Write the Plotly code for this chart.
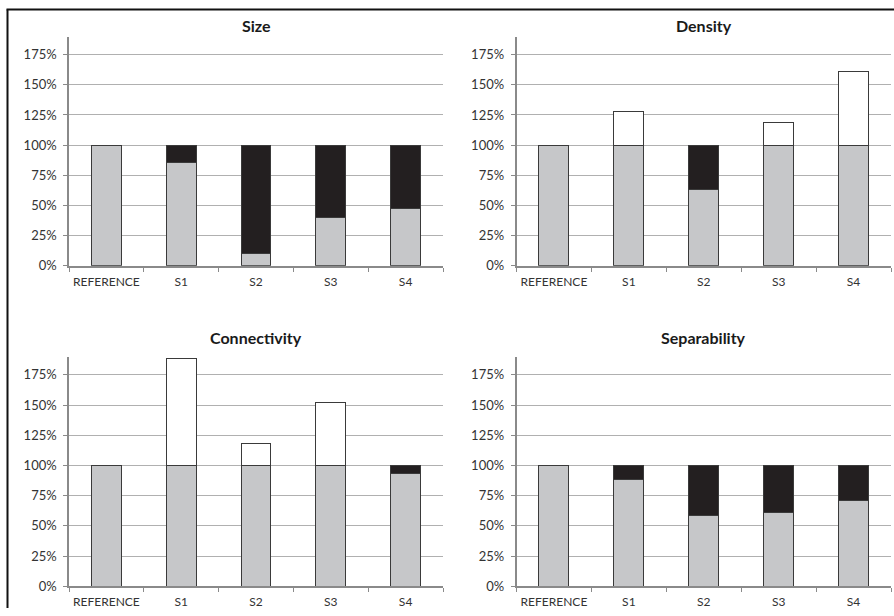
import plotly.graph_objects as go

categories = ["REFERENCE", "S1", "S2", "S3", "S4"]
panel_titles = ["Size", "Density", "Connectivity", "Separability"]

# stacked segments (fractions of reference)
size_gray = [1.00, 0.856, 0.105, 0.397, 0.475]
size_black = [0.0, 0.144, 0.895, 0.603, 0.525]
size_white = [0.0, 0.0, 0.0, 0.0, 0.0]

density_gray = [1.00, 1.00, 0.629, 1.00, 1.00]
density_black = [0.0, 0.0, 0.371, 0.0, 0.0]
density_white = [0.0, 0.275, 0.0, 0.184, 0.612]

connectivity_gray = [1.00, 1.00, 1.00, 1.00, 0.934]
connectivity_black = [0.0, 0.0, 0.0, 0.0, 0.066]
connectivity_white = [0.0, 0.882, 0.185, 0.519, 0.0]

separability_gray = [1.00, 0.885, 0.584, 0.612, 0.714]
separability_black = [0.0, 0.115, 0.416, 0.388, 0.286]
separability_white = [0.0, 0.0, 0.0, 0.0, 0.0]

y_ticks = [0, 0.25, 0.5, 0.75, 1.0, 1.25, 1.5, 1.75]
y_tick_labels = ["0%", "25%", "50%", "75%", "100%", "125%", "150%", "175%"]

panels = [
    (size_gray, size_black, size_white),
    (density_gray, density_black, density_white),
    (connectivity_gray, connectivity_black, connectivity_white),
    (separability_gray, separability_black, separability_white),
]

W, H = 894, 616
HF = 607.7  # effective rendered height used for paper fractions
# pixel geometry of the plot areas (left, right, top, bottom)
boxes = [
    (69, 443, 36.5, 265.7),
    (516.5, 891, 36.5, 265.7),
    (69, 443, 356.5, 586),
    (516.5, 891, 356.5, 586),
]
title_y = [25, 25, 337, 337]

FONT = "Lato"
fig = go.Figure()
seg_colors = ["#c6c7c9", "#231f20", "#ffffff"]

for i, (segs, box) in enumerate(zip(panels, boxes)):
    xa = "x" if i == 0 else f"x{i+1}"
    ya = "y" if i == 0 else f"y{i+1}"
    for vals, col in zip(segs, seg_colors):
        fig.add_trace(go.Bar(
            x=categories, y=vals, xaxis=xa, yaxis=ya,
            marker=dict(color=col, line=dict(color="#3a3a3a", width=1)),
            showlegend=False, hoverinfo="skip",
        ))
    l, r, t, b = box
    xkey = "xaxis" if i == 0 else f"xaxis{i+1}"
    ykey = "yaxis" if i == 0 else f"yaxis{i+1}"
    fig.layout[xkey] = dict(
        domain=[l / W, r / W], anchor=ya, type="category",
        showgrid=False, showline=True, linecolor="#8a8a8a", linewidth=1.5,
        ticks="outside", tickson="boundaries", ticklen=4, tickcolor="#8a8a8a",
        tickwidth=1, tickangle=0, ticklabelstandoff=4,
        tickfont=dict(family=FONT, size=12, color="#333333"),
        fixedrange=True,
    )
    fig.layout[ykey] = dict(
        domain=[1 - b / HF, 1 - t / HF], anchor=xa, range=[0, 1.9],
        tickvals=y_ticks, ticktext=y_tick_labels,
        showgrid=True, gridcolor="#b0b0b0", gridwidth=1, zeroline=False,
        showline=True, linecolor="#8a8a8a", linewidth=1.5,
        ticks="outside", ticklen=4, tickcolor="#8a8a8a", tickwidth=1,
        ticklabelstandoff=4,
        tickfont=dict(family=FONT, size=13, color="#333333"),
        fixedrange=True,
    )
    fig.add_annotation(
        text=f"<b>{panel_titles[i]}</b>", xref="paper", yref="paper",
        x=(l + r) / 2 / W, y=1 - title_y[i] / HF, xanchor="center", yanchor="middle",
        showarrow=False, font=dict(family=FONT, size=16, color="#1a1a1a"),
    )

# frame lines (left and top)
fig.add_shape(type="line", xref="paper", yref="paper",
              x0=7.5 / W, x1=7.5 / W, y0=0, y1=1 - 9.5 / HF,
              line=dict(color="#111111", width=2))
fig.add_shape(type="line", xref="paper", yref="paper",
              x0=6.5 / W, x1=1, y0=1 - 9.5 / HF, y1=1 - 9.5 / HF,
              line=dict(color="#111111", width=2))

fig.update_layout(
    width=W, height=H, autosize=False, barmode="stack", bargap=0.6,
    margin=dict(l=0, r=0, t=0, b=0),
    plot_bgcolor="white", paper_bgcolor="white",
    font=dict(family=FONT),
)

post = (
    "document.documentElement.style.margin='0';"
    "document.documentElement.style.overflow='hidden';"
    "document.body.style.margin='0';"
    "document.body.style.overflow='hidden';"
    "var d=document.getElementById('{plot_id}');"
    "d.style.position='fixed';d.style.left='0px';d.style.top='0px';"
)
fig.write_html("out.html", config={"displayModeBar": False, "responsive": False},
               post_script=post)
